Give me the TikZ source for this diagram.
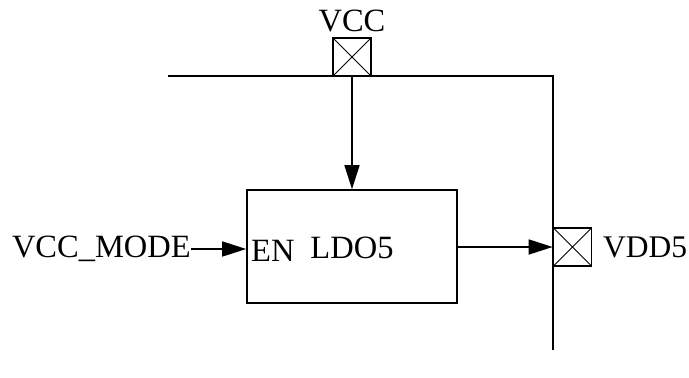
\documentclass[tikz,border=0pt]{standalone}
\usepackage{fontspec}
\setmainfont{Liberation Serif}
\usetikzlibrary{arrows.meta}
\begin{document}
\begin{tikzpicture}[x=1pt,y=1pt,
  wire/.style={line width=1.7pt},
  arr/.style={wire,-{Triangle[length=24pt,width=15pt]}},
  pin/.style={draw,line width=1.7pt,minimum size=38pt,inner sep=0pt,
    path picture={\draw[line width=1pt] (path picture bounding box.north west)--(path picture bounding box.south east)
      (path picture bounding box.north east)--(path picture bounding box.south west);}},
  lbl/.style={font=\fontsize{32.5}{32.5}\selectfont,inner sep=0pt}]
\useasboundingbox (0,0) rectangle (689,-378);
% pins
\node[pin] (vccpin) at (352,-57) {};
\node[pin] (vddpin) at (572.5,-247) {};
\node[lbl,anchor=south] (vcctxt) at ([yshift=5pt]vccpin.north) {VCC};
\node[lbl,anchor=west,font=\fontsize{31.5}{31.5}\selectfont] (vddtxt) at (603,-247) {VDD5};
% block
\node[draw,line width=1.7pt,minimum width=210pt,minimum height=113pt] (ldo) at (352,-246.5) {};
\node[lbl] (ldotxt) at (352,-248) {LDO5};
\node[lbl,anchor=west] (en) at (251,-251) {EN};
\node[lbl,anchor=east] (mode) at (191,-249) {VCC\_MODE};
% wires
\coordinate (tl) at (168,-76);
\coordinate (tr) at (553,-76);
\coordinate (br) at (553,-350);
\draw[wire] (tl) -- (tr) -- (br);
\draw[arr] (vccpin.south) -- (ldo.north);
\draw[arr] (ldo.east |- vddpin.west) -- (vddpin.west);
\draw[arr] (mode.east) -- (ldo.west |- mode.east);
\end{tikzpicture}
\end{document}
